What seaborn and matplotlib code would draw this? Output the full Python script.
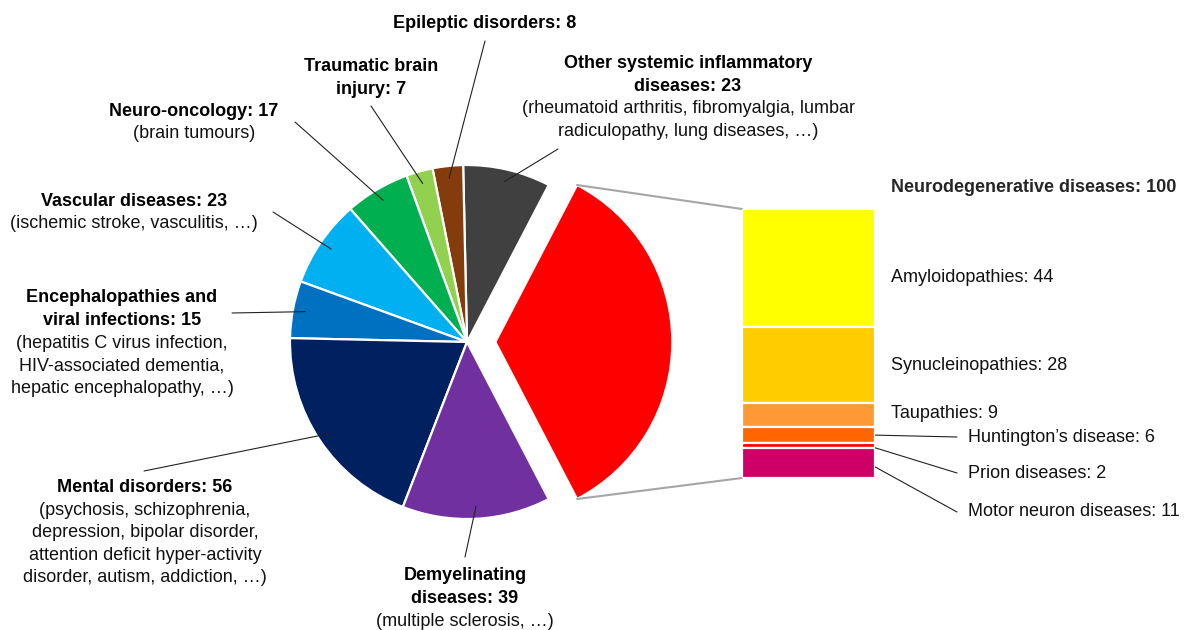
import numpy as np
import matplotlib.pyplot as plt
import seaborn as sns

# pie: disease groups (number of studies)
pie_names = ["Neurodegenerative diseases", "Other systemic inflammatory\ndiseases",
             "Epileptic disorders", "Traumatic brain\ninjury", "Neuro-oncology",
             "Vascular diseases", "Encephalopathies and\nviral infections",
             "Mental disorders", "Demyelinating\ndiseases"]
pie_counts = [100, 23, 8, 7, 17, 23, 15, 56, 39]
pie_details = [None,
               "(rheumatoid arthritis, fibromyalgia, lumbar\nradiculopathy, lung diseases, …)",
               None, None, "(brain tumours)", "(ischemic stroke, vasculitis, …)",
               "(hepatitis C virus infection,\nHIV-associated dementia,\nhepatic encephalopathy, …)",
               "(psychosis, schizophrenia,\ndepression, bipolar disorder,\nattention deficit hyper-activity\ndisorder, autism, addiction, …)",
               "(multiple sclerosis, …)"]
pie_colors = ["#FF0000", "#404040", "#843C0C", "#92D050", "#00B050",
              "#00B0F0", "#0070C0", "#002060", "#7030A0"]

# breakdown of the neurodegenerative slice
sub_names = ["Amyloidopathies", "Synucleinopathies", "Taupathies",
             "Huntington’s disease", "Prion diseases", "Motor neuron diseases"]
sub_counts = [44, 28, 9, 6, 2, 11]
bar_colors = ["#FFFF00", "#FFCC00", "#FF9933", "#FF6600", "#FF0000", "#CC0066"]

sns.set_theme(style="white")
plt.rcParams['font.family'] = ['Liberation Sans', 'DejaVu Sans']
FS = 13
LS = 1.42

W, H = 1184, 630
fig = plt.figure(figsize=(W / 100, H / 100), dpi=100)
ax = fig.add_axes([0, 0, 1, 1])

cx, cy, R = 467, 342, 177
explode = [0.16 * R] + [0] * (len(pie_counts) - 1)
wedges, _ = ax.pie(pie_counts, colors=pie_colors, startangle=62.5, counterclock=False,
                   explode=explode, radius=R, center=(cx, cy),
                   wedgeprops=dict(edgecolor="white", linewidth=1.6))
ax.set_xlim(0, W)
ax.set_ylim(H, 0)
ax.set_aspect("equal")
ax.axis("off")

# label layout: (x, title y, detail y, leader outer end)
label_pos = [None,
             (688, 75, 120, (558, 149)),
             (485, 24, None, (485, 41)),
             (371, 78, None, (371, 106)),
             (194, 111, 133, (295, 122)),
             (134, 201, 223, (273, 212)),
             (122, 309, 366, (232, 313)),
             (145, 488, 544, (144, 471)),
             (465, 587, 621, (465, 557))]

for i in range(1, len(pie_counts)):
    x, ty, dy, outer = label_pos[i]
    ax.text(x, ty, f"{pie_names[i]}: {pie_counts[i]}", ha="center", va="center",
            fontsize=FS, fontweight="bold", linespacing=LS, color="black")
    if pie_details[i]:
        ax.text(x, dy, pie_details[i], ha="center", va="center",
                fontsize=FS, linespacing=LS, color="#111111")
    w = wedges[i]
    mid = np.deg2rad((w.theta1 + w.theta2) / 2)
    inner = (cx + 0.93 * R * np.cos(mid), cy + 0.93 * R * np.sin(mid))
    ax.plot([outer[0], inner[0]], [outer[1], inner[1]], color="#222222", lw=0.8)

# stacked bar for the exploded slice
bx0, bx1, by0, by1 = 742, 875, 209, 478
bax = fig.add_axes([bx0 / W, (H - by1) / H, (bx1 - bx0) / W, (by1 - by0) / H])
bottoms = np.cumsum([0] + sub_counts[:-1])
bax.bar([0] * len(sub_counts), sub_counts, bottom=bottoms, width=1,
        color=bar_colors, edgecolor="white", linewidth=1.6)
bax.set_xlim(-0.5, 0.5)
bax.set_ylim(sum(sub_counts), 0)
bax.axis("off")

# grey connectors from the red wedge to the bar
w0 = wedges[0]
pts = [(w0.center[0] + w0.r * np.cos(np.deg2rad(a)), w0.center[1] + w0.r * np.sin(np.deg2rad(a)))
       for a in (w0.theta1, w0.theta2)]
pts.sort(key=lambda p: p[1])
ax.plot([pts[0][0], bx0], [pts[0][1], by0], color="#A6A6A6", lw=1.5)
ax.plot([pts[1][0], bx0], [pts[1][1], by1], color="#A6A6A6", lw=1.5)

# bar labels
ax.text(891, 188, f"{pie_names[0]}: {pie_counts[0]}", ha="left", va="center",
        fontsize=FS, fontweight="bold")
sub_label_pos = [(891, 278), (891, 366), (891, 413), (968, 437), (968, 473), (968, 512)]
to_main = ax.transData.inverted()
for i, (name, n) in enumerate(zip(sub_names, sub_counts)):
    x, y = sub_label_pos[i]
    ax.text(x, y, f"{name}: {n}", ha="left", va="center", fontsize=FS, color="#111111")
    if i >= 3:
        start = to_main.transform(bax.transData.transform((0.45, bottoms[i] + n / 2)))
        ax.plot([start[0], x - 11], [start[1], y], color="#222222", lw=0.8)

fig.savefig("out.png", dpi=100)
